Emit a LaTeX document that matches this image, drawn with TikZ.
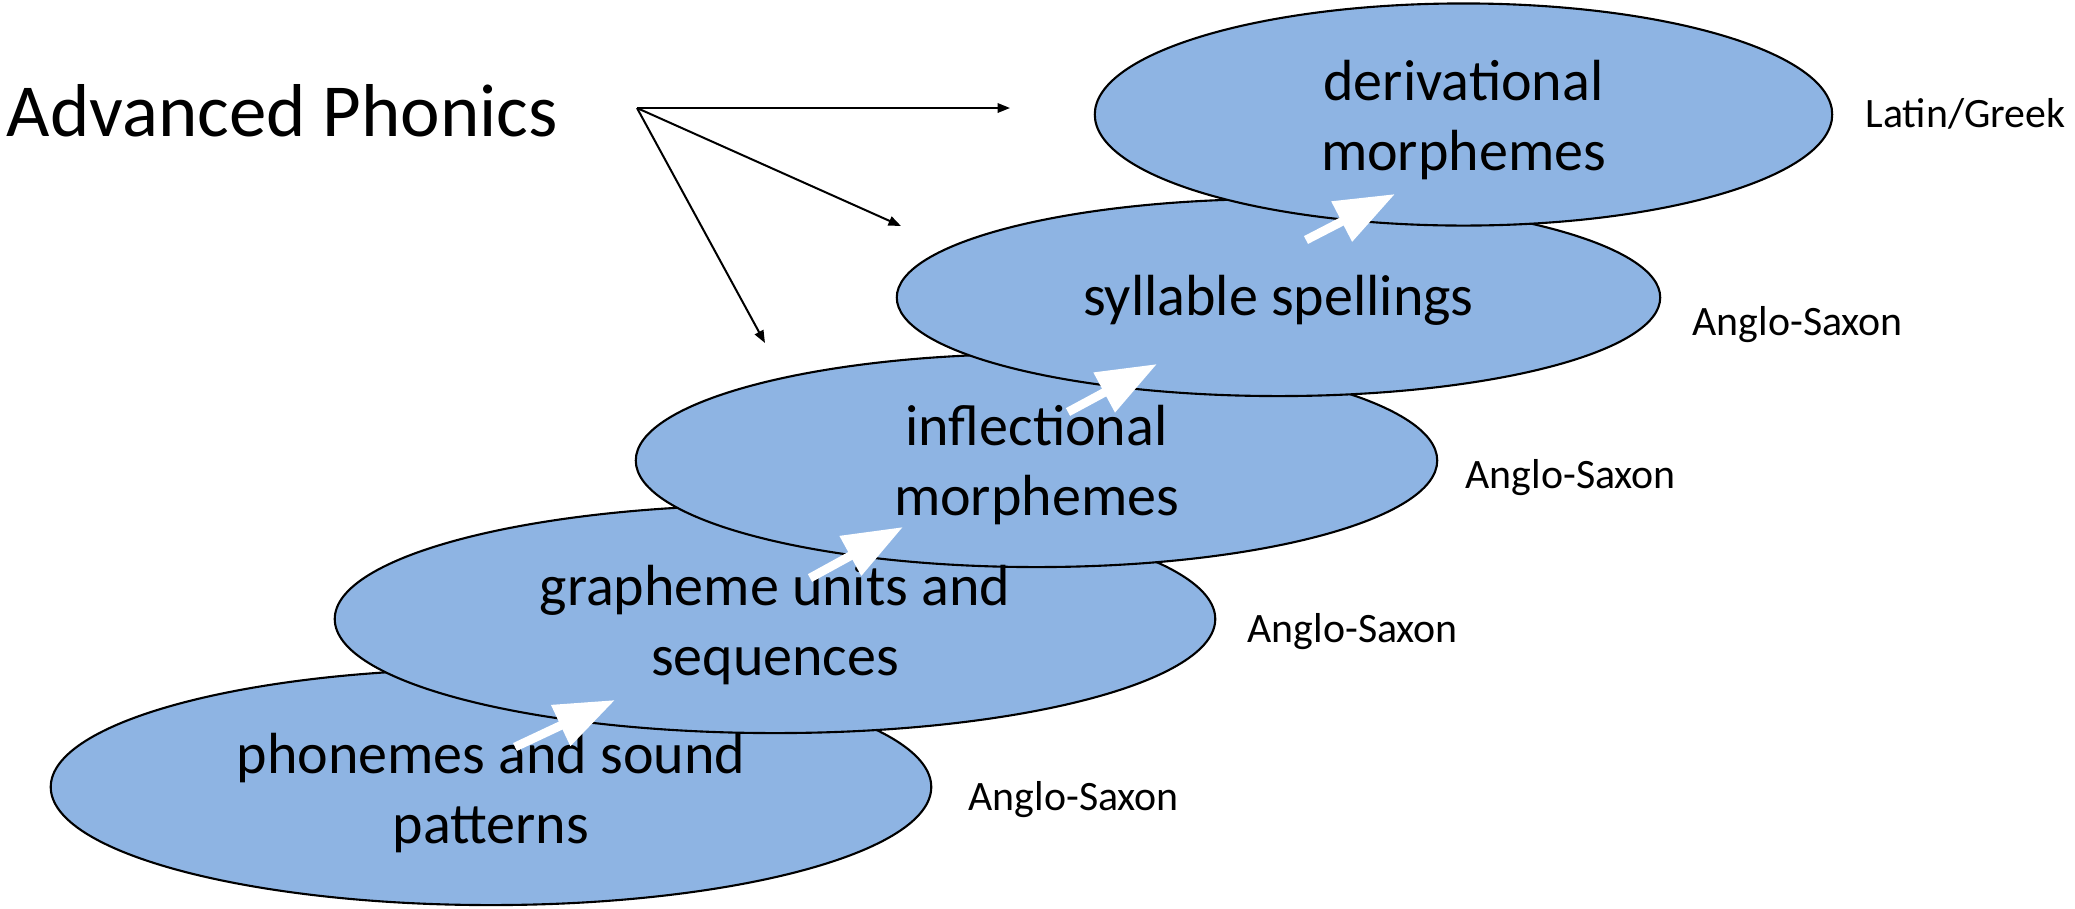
\documentclass[tikz,border=0pt]{standalone}
\usepackage{fontspec}
\setmainfont{Carlito}
\usetikzlibrary{shapes.geometric,arrows.meta,calc}
\definecolor{layerblue}{RGB}{142,180,227}
\begin{document}
\begin{tikzpicture}[x=0.01cm,y=-0.01cm,
  layer/.style={ellipse,draw=black,line width=0.6pt,fill=layerblue,inner sep=0pt},
  layertext/.style={anchor=base,align=center,inner sep=0pt,font=\fontsize{16.5}{19.9}\selectfont},
  origintag/.style={anchor=base west,inner sep=0pt,font=\fontsize{11.9}{14}\selectfont},
  pointer/.style={line width=0.57pt,-{Triangle[length=0.125cm,width=0.095cm]}},
  climb/.style={white,line width=0.088cm,-{Triangle[length=0.6cm,width=0.43cm]}}
]
\useasboundingbox (0,0) rectangle (2075,908);

% title and its pointers
\node[anchor=base west,inner sep=0pt,font=\fontsize{21.3}{26}\selectfont] (title) at (6,136) {Advanced Phonics};
\coordinate (hub) at (637,108);
\coordinate (toDeriv) at (1010,108);
\coordinate (toSyll) at (901,226);
\coordinate (toInfl) at (765,343);
\draw[pointer] (hub) -- (toDeriv);
\draw[pointer] (hub) -- (toSyll);
\draw[pointer] (hub) -- (toInfl);

% the stacked layers, bottom to top
\node[layer,minimum width=8.8cm,minimum height=2.36cm] (phon) at (491,787) {};
\node[layer,minimum width=8.8cm,minimum height=2.28cm] (graph) at (775,619) {};
\node[layer,minimum width=8.01cm,minimum height=2.13cm] (infl) at (1036.5,460.5) {};
\node[layer,minimum width=7.63cm,minimum height=1.97cm] (syll) at (1278.5,297.5) {};
\node[layer,minimum width=7.37cm,minimum height=2.22cm] (deriv) at (1463.5,114.5) {};

% layer captions (base anchor sits on the last line)
\node[layertext] (phonT) at ($(phon.center)+(0,56)$) {phonemes and sound\\patterns};
\node[layertext] (graphT) at ($(graph.center)+(0,56)$) {grapheme units and\\sequences};
\node[layertext] (inflT) at ($(infl.center)+(0,55)$) {inflectional\\morphemes};
\node[layertext] (syllT) at ($(syll.center)+(0,18)$) {syllable spellings};
\node[layertext] (derivT) at ($(deriv.center)+(0,56)$) {derivational\\morphemes};

% word origins
\node[origintag] (phonO) at (968,810) {Anglo-Saxon};
\node[origintag] (graphO) at (1247,642) {Anglo-Saxon};
\node[origintag] (inflO) at (1465,488) {Anglo-Saxon};
\node[origintag] (syllO) at (1692,335) {Anglo-Saxon};
\node[origintag] (derivO) at (1865,127) {Latin/Greek};

% white step arrows between layers
\coordinate (s1a) at (515,747);  \coordinate (s1b) at (615,700);
\coordinate (s2a) at (810,578);  \coordinate (s2b) at (903,527);
\coordinate (s3a) at (1068,412); \coordinate (s3b) at (1157,364);
\coordinate (s4a) at (1306,240); \coordinate (s4b) at (1395,194);
\draw[climb] (s1a) -- (s1b);
\draw[climb] (s2a) -- (s2b);
\draw[climb] (s3a) -- (s3b);
\draw[climb] (s4a) -- (s4b);
\end{tikzpicture}
\end{document}
